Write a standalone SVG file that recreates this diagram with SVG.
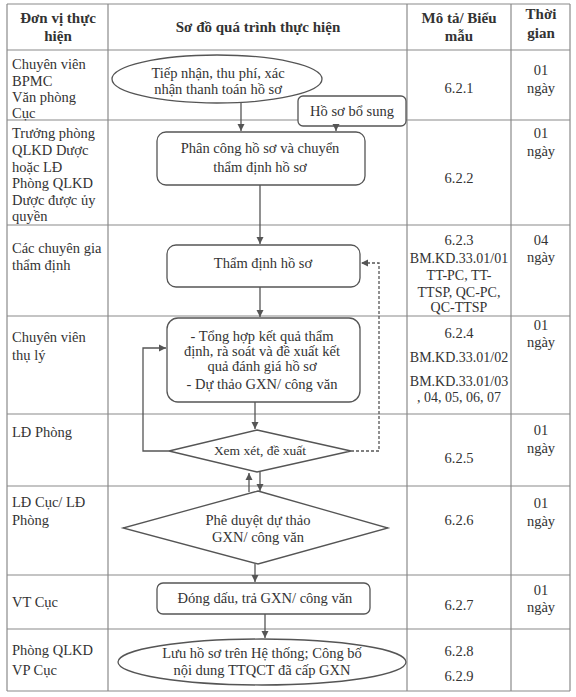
<svg xmlns="http://www.w3.org/2000/svg" width="576" height="697" viewBox="0 0 576 697" font-family="'Liberation Serif', 'Times New Roman', Times, serif">
<defs>
<marker id="ah" markerWidth="8" markerHeight="8" refX="7" refY="4" orient="auto" markerUnits="userSpaceOnUse">
<path d="M0,0.5 L7,4 L0,7.5 Z" fill="#555"/>
</marker>
</defs>
<style>
text{font-family:'Liberation Serif','Times New Roman',Times,serif;fill:#333;font-size:14.5px}
.h{font-weight:bold;font-size:15px;text-anchor:middle}
.c{text-anchor:middle}
.d{font-size:14px}
.grid line{stroke:#8a8a8a;stroke-width:1.2}
.sh{fill:none;stroke:#555;stroke-width:1.3}
.con line,.con polyline{fill:none;stroke:#555;stroke-width:1.3}
</style>
<rect width="576" height="697" fill="#fff"/>
<g class="grid">
<line x1="7" y1="4" x2="570" y2="4"/>
<line x1="7" y1="50" x2="570" y2="50"/>
<line x1="7" y1="120" x2="570" y2="120"/>
<line x1="7" y1="225" x2="570" y2="225"/>
<line x1="7" y1="316" x2="570" y2="316"/>
<line x1="7" y1="414" x2="570" y2="414"/>
<line x1="7" y1="486" x2="570" y2="486"/>
<line x1="7" y1="575" x2="570" y2="575"/>
<line x1="7" y1="629" x2="570" y2="629"/>
<line x1="7" y1="691" x2="570" y2="691"/>
<line x1="7" y1="4" x2="7" y2="691"/>
<line x1="108" y1="4" x2="108" y2="691"/>
<line x1="407" y1="4" x2="407" y2="691"/>
<line x1="511" y1="4" x2="511" y2="691"/>
<line x1="570" y1="4" x2="570" y2="691"/>
</g>
<g id="header">
<text class="h" x="58" y="23">Đơn vị thực</text>
<text class="h" x="58" y="41">hiện</text>
<text class="h" x="258" y="32">Sơ đồ quá trình thực hiện</text>
<text class="h" x="459" y="23">Mô tả/ Biểu</text>
<text class="h" x="459" y="41">mẫu</text>
<text class="h" x="541" y="19">Thời</text>
<text class="h" x="541" y="38">gian</text>
</g>
<g id="col-unit">
<text x="12" y="69">Chuyên viên</text>
<text x="12" y="86">BPMC</text>
<text x="12" y="102">Văn phòng</text>
<text x="12" y="118">Cục</text>
<text x="12" y="138">Trưởng phòng</text>
<text x="12" y="155">QLKD Dược</text>
<text x="12" y="172">hoặc LĐ</text>
<text x="12" y="188">Phòng QLKD</text>
<text x="12" y="205">Dược được ủy</text>
<text x="12" y="221">quyền</text>
<text x="12" y="253">Các chuyên gia</text>
<text x="12" y="270">thẩm định</text>
<text x="12" y="342">Chuyên viên</text>
<text x="12" y="360">thụ lý</text>
<text x="12" y="437">LĐ Phòng</text>
<text x="12" y="507">LĐ Cục/ LĐ</text>
<text x="12" y="525">Phòng</text>
<text x="12" y="607">VT Cục</text>
<text x="12" y="655">Phòng QLKD</text>
<text x="12" y="675">VP Cục</text>
</g>
<g id="col-desc">
<text class="c" x="459" y="93">6.2.1</text>
<text class="c" x="459" y="183">6.2.2</text>
<text class="c" x="459" y="245">6.2.3</text>
<text class="c d" x="459" y="263">BM.KD.33.01/01</text>
<text class="c d" x="459" y="280">TT-PC, TT-</text>
<text class="c d" x="459" y="297">TTSP, QC-PC,</text>
<text class="c d" x="459" y="312">QC-TTSP</text>
<text class="c" x="459" y="338">6.2.4</text>
<text class="c d" x="459" y="362">BM.KD.33.01/02</text>
<text class="c d" x="459" y="386">BM.KD.33.01/03</text>
<text class="c d" x="459" y="402">, 04, 05, 06, 07</text>
<text class="c" x="459" y="463">6.2.5</text>
<text class="c" x="459" y="525">6.2.6</text>
<text class="c" x="459" y="610">6.2.7</text>
<text class="c" x="459" y="656">6.2.8</text>
<text class="c" x="459" y="681">6.2.9</text>
</g>
<g id="col-time">
<text class="c" x="541" y="75">01</text>
<text class="c" x="541" y="93">ngày</text>
<text class="c" x="541" y="138">01</text>
<text class="c" x="541" y="156">ngày</text>
<text class="c" x="541" y="245">04</text>
<text class="c" x="541" y="262">ngày</text>
<text class="c" x="541" y="330">01</text>
<text class="c" x="541" y="347">ngày</text>
<text class="c" x="541" y="435">01</text>
<text class="c" x="541" y="453">ngày</text>
<text class="c" x="541" y="508">01</text>
<text class="c" x="541" y="526">ngày</text>
<text class="c" x="541" y="595">01</text>
<text class="c" x="541" y="612">ngày</text>
</g>
<g id="n1">
<ellipse class="sh" cx="217" cy="79" rx="105" ry="24"/>
<text class="c" x="218" y="78">Tiếp nhận, thu phí, xác</text>
<text class="c" x="218" y="94">nhận thanh toán hồ sơ</text>
</g>
<g id="n-bosung">
<rect class="sh" x="298" y="96" width="108" height="30" rx="5" style="fill:#fff"/>
<text class="c" x="352" y="116">Hồ sơ bổ sung</text>
</g>
<g id="n2">
<rect class="sh" x="157" y="132" width="208" height="53" rx="9"/>
<text class="c" x="260" y="153">Phân công hồ sơ và chuyển</text>
<text class="c" x="260" y="172">thẩm định hồ sơ</text>
</g>
<g id="n3">
<rect class="sh" x="167" y="245" width="193" height="42" rx="9"/>
<text class="c" x="263" y="268">Thẩm định hồ sơ</text>
</g>
<g id="n4">
<rect class="sh" x="167" y="318" width="193" height="84" rx="11"/>
<text class="c" x="262" y="341">- Tổng hợp kết quả thẩm</text>
<text class="c" x="262" y="356">định, rà soát và đề xuất kết</text>
<text class="c" x="262" y="371">quả đánh giá hồ sơ</text>
<text class="c" x="262" y="389">- Dự thảo GXN/ công văn</text>
</g>
<g id="n5">
<polygon class="sh" points="257,430 351,451 257,472 169,451"/>
<text class="c" x="260" y="455" style="font-size:13.5px">Xem xét, đề xuất</text>
</g>
<g id="n6">
<polygon class="sh" points="258,491 388,528 258,564 123,528"/>
<text class="c" x="258" y="525">Phê duyệt dự thảo</text>
<text class="c" x="258" y="542">GXN/ công văn</text>
</g>
<g id="n7">
<rect class="sh" x="157" y="583" width="213" height="31" rx="6"/>
<text class="c" x="265" y="603">Đóng dấu, trả GXN/ công văn</text>
</g>
<g id="n8">
<ellipse class="sh" cx="262" cy="662" rx="144" ry="23"/>
<text class="c" x="262" y="658">Lưu hồ sơ trên Hệ thống; Công bố</text>
<text class="c" x="262" y="675">nội dung TTQCT đã cấp GXN</text>
</g>
<g class="con" id="connectors">
<line x1="241" y1="103" x2="241" y2="131" marker-end="url(#ah)"/>
<line x1="336" y1="126" x2="336" y2="131" marker-end="url(#ah)"/>
<line x1="260" y1="185" x2="260" y2="244" marker-end="url(#ah)"/>
<line x1="260" y1="287" x2="260" y2="317" marker-end="url(#ah)"/>
<line x1="255" y1="402" x2="255" y2="429" marker-end="url(#ah)"/>
<polyline points="169,451 143,451 143,348 166,348" marker-end="url(#ah)"/>
<polyline points="351,451 379,451 379,263 361,263" stroke-dasharray="3,2" marker-end="url(#ah)"/>
<line x1="249" y1="492" x2="249" y2="473" marker-end="url(#ah)"/>
<line x1="260" y1="472" x2="260" y2="491" marker-end="url(#ah)"/>
<line x1="255" y1="564" x2="255" y2="582" marker-end="url(#ah)"/>
<line x1="265" y1="614" x2="265" y2="638" marker-end="url(#ah)"/>
</g>
</svg>
